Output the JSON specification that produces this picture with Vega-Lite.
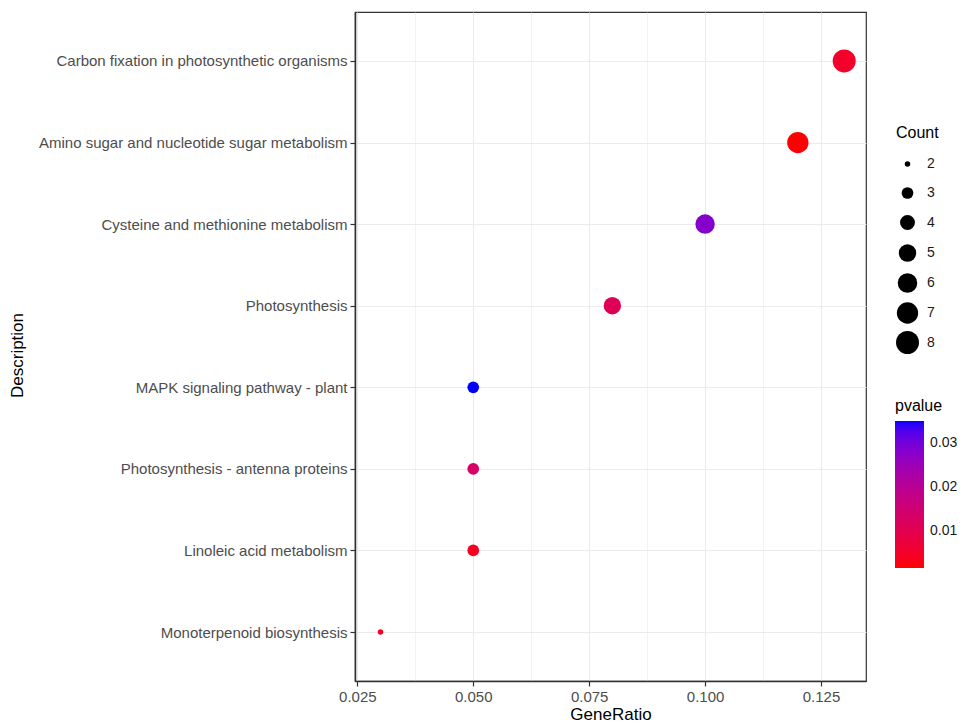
{
  "$schema": "https://vega.github.io/schema/vega-lite/v6.json",
  "autosize": {"type": "none"},
  "padding": {"left": 355, "top": 12, "right": 100, "bottom": 45},
  "width": 511,
  "height": 669,
  "background": "white",
  "config": {
    "font": "Liberation Sans",
    "view": {"stroke": "#333333", "strokeWidth": 1.2}
  },
  "data": {
    "values": [
      {"Description": "Carbon fixation in photosynthetic organisms", "GeneRatio": 0.13, "Count": 8, "pvalue": 0.005},
      {"Description": "Amino sugar and nucleotide sugar metabolism", "GeneRatio": 0.12, "Count": 7, "pvalue": 0.0018},
      {"Description": "Cysteine and methionine metabolism", "GeneRatio": 0.10, "Count": 6, "pvalue": 0.028},
      {"Description": "Photosynthesis", "GeneRatio": 0.08, "Count": 5, "pvalue": 0.011},
      {"Description": "MAPK signaling pathway - plant", "GeneRatio": 0.05, "Count": 3, "pvalue": 0.035},
      {"Description": "Photosynthesis - antenna proteins", "GeneRatio": 0.05, "Count": 3, "pvalue": 0.013},
      {"Description": "Linoleic acid metabolism", "GeneRatio": 0.05, "Count": 3, "pvalue": 0.004},
      {"Description": "Monoterpenoid biosynthesis", "GeneRatio": 0.03, "Count": 2, "pvalue": 0.004}
    ]
  },
  "mark": {"type": "circle", "opacity": 1},
  "encoding": {
    "x": {
      "field": "GeneRatio",
      "type": "quantitative",
      "scale": {"domain": [0.0245, 0.1347], "nice": false, "zero": false},
      "axis": {
        "title": "GeneRatio",
        "values": [0.025, 0.0375, 0.05, 0.0625, 0.075, 0.0875, 0.1, 0.1125, 0.125],
        "labelExpr": "indexof(['0.025','0.050','0.075','0.100','0.125'], format(datum.value, '.3f')) >= 0 ? format(datum.value, '.3f') : ''",
        "tickOpacity": {"condition": {"test": "indexof(['0.025','0.050','0.075','0.100','0.125'], format(datum.value, '.3f')) >= 0", "value": 1}, "value": 0},
        "gridWidth": {"condition": {"test": "indexof(['0.025','0.050','0.075','0.100','0.125'], format(datum.value, '.3f')) >= 0", "value": 1.1}, "value": 0.6},
        "gridColor": "#ebebeb",
        "domainColor": "#333333",
        "domainWidth": 1.5,
        "tickColor": "#333333",
        "tickSize": 5,
        "tickWidth": 1.2,
        "labelColor": "#4d4d4d",
        "labelFontSize": 15,
        "labelPadding": 3,
        "labelFlush": false,
        "titleFontSize": 17,
        "titleFontWeight": "normal",
        "titleColor": "black",
        "titlePadding": 2
      }
    },
    "y": {
      "field": "Description",
      "type": "nominal",
      "sort": null,
      "scale": {"type": "point", "padding": 0.6},
      "axis": {
        "title": "Description",
        "gridColor": "#ebebeb",
        "gridWidth": 1.1,
        "grid": true,
        "domainColor": "#333333",
        "domainWidth": 1.5,
        "tickColor": "#333333",
        "tickSize": 5,
        "tickWidth": 1.2,
        "labelColor": "#4d4d4d",
        "labelFontSize": 15,
        "labelPadding": 3,
        "labelLimit": 400,
        "titleFontSize": 17,
        "titleFontWeight": "normal",
        "titleColor": "black",
        "titleX": -338,
        "titleY": 343,
        "titleAlign": "center",
        "titleBaseline": "middle",
        "titleAngle": -90
      }
    },
    "size": {
      "field": "Count",
      "type": "quantitative",
      "scale": {"domain": [2, 3, 4, 5, 6, 7, 8], "range": [30, 137, 222, 303, 380, 454, 529]},
      "legend": {
        "title": "Count",
        "orient": "none",
        "legendX": 541,
        "legendY": 113,
        "values": [2, 3, 4, 5, 6, 7, 8],
        "gridAlign": "all",
        "symbolFillColor": "black",
        "symbolStrokeWidth": 0,
        "symbolType": "circle",
        "rowPadding": 6,
        "labelFontSize": 14,
        "labelColor": "#1a1a1a",
        "labelOffset": 8,
        "titleFontSize": 16,
        "titleFontWeight": "normal",
        "titleColor": "black",
        "titlePadding": 16
      }
    },
    "color": {
      "field": "pvalue",
      "type": "quantitative",
      "scale": {"domain": [0.0016, 0.035], "range": ["#ff0000", "#0000ff"], "interpolate": "lab"},
      "legend": {
        "title": "pvalue",
        "orient": "none",
        "legendX": 540,
        "legendY": 386,
        "values": [0.01, 0.02, 0.03],
        "format": ".2f",
        "gradientLength": 147,
        "gradientThickness": 29,
        "gradientStrokeWidth": 0,
        "labelFontSize": 14,
        "labelColor": "#1a1a1a",
        "labelOffset": 6,
        "titleFontSize": 16,
        "titleFontWeight": "normal",
        "titleColor": "black",
        "titlePadding": 7
      }
    }
  }
}
